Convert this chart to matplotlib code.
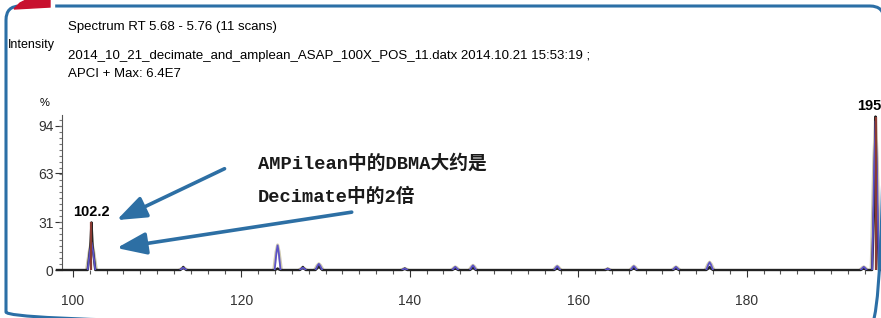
import matplotlib.pyplot as plt
from matplotlib.patches import FancyBboxPatch, Rectangle, Polygon
from matplotlib.ticker import MultipleLocator
from matplotlib.transforms import Affine2D

peak_mz = [102.2, 113.1, 124.3, 127.3, 129.2, 139.4, 145.4, 147.5,
           157.5, 163.5, 166.6, 171.6, 175.6, 193.9, 195.3]
black_h = [31, 2, 1, 2, 3, 1, 1.5, 2, 1.5, 0.8, 1.5, 1.5, 2, 1.5, 100]
blue_h = [18, 1.5, 16, 1.5, 4, 1, 2, 3, 2.5, 0.8, 2.5, 2, 5, 2, 97]
peak_w = [0.45, 0.35, 0.35, 0.35, 0.4, 0.3, 0.35, 0.35,
          0.35, 0.25, 0.35, 0.35, 0.4, 0.35, 0.4]
labelled = {102.2: '102.2', 195.3: '195.3'}

y_ticks = [0, 31, 63, 94]
x_ticks = [100, 120, 140, 160, 180]

W, H = 881, 318
fig = plt.figure(figsize=(W / 100, H / 100), dpi=100)

def fx(px):
    return px / W

def fy(py):
    return 1 - py / H

# coordenadas en pixeles desde arriba a la izquierda
pix = Affine2D().scale(1 / W, -1 / H).translate(0, 1) + fig.transFigure

narrow = ['Liberation Sans Narrow', 'Liberation Sans', 'DejaVu Sans']

# marco azul redondeado
frame = FancyBboxPatch((6, 6), 884 - 6, 326 - 6,
                       boxstyle='round,pad=0,rounding_size=14',
                       transform=pix, fill=False, edgecolor='#2b6fa6', lw=2.2)
fig.patches.append(frame)
fig.patches.append(Rectangle((18, -1), 36, 14, transform=pix,
                             color='white', zorder=2))
fig.patches.append(Polygon([(14, 9), (20, 3), (28, -1), (50, -1), (50, 7)],
                           closed=True, transform=pix, color='#c8102e', zorder=3))

ax = fig.add_axes([fx(62), fy(270), 1 - fx(62), fy(115) - fy(270)])
ax.set_xlim(98.7, 195.95)
ax.set_ylim(0, 101)

# linea base negra con picos
bx, by = [98.1], [0]
for mz, h, w in zip(peak_mz, black_h, peak_w):
    bx += [mz - w, mz - w * 0.3, mz, mz + w * 0.3, mz + w]
    by += [0, h * 0.5, h, h * 0.5, 0]
bx.append(197)
by.append(0)
ax.plot(bx, by, color='#222222', lw=1.7, zorder=3, clip_on=False)

# perfil gris/blanco y azul
for mz, h, w in zip(peak_mz, blue_h, peak_w):
    ax.plot([mz - w * 1.3, mz - w * 0.5, mz, mz + w * 0.5, mz + w * 1.3],
            [0, h * 0.75, h * 1.02, h * 0.75, 0], color='#cfcab0', lw=2.2, zorder=2)
    ax.plot([mz - w, mz - w * 0.4, mz, mz + w * 0.4, mz + w],
            [0, h * 0.7, h, h * 0.7, 0], color='#5b52c8', lw=1.3, zorder=4)

# barras rojas de centroides
for mz, h in zip(peak_mz, black_h):
    if mz in labelled:
        ax.vlines(mz, 0, h, color='#8a3b34', lw=1.6, zorder=5)
        ax.text(mz, h + 2, labelled[mz], ha='center', va='bottom', fontsize=10.5,
                family=narrow, fontweight='bold', clip_on=False)

for s in ['top', 'right', 'bottom']:
    ax.spines[s].set_visible(False)
ax.spines['left'].set_color('#555555')
ax.spines['left'].set_linewidth(0.8)

ax.set_yticks(y_ticks)
ax.yaxis.set_minor_locator(MultipleLocator(3.9))
ax.set_xticks(x_ticks)
ax.xaxis.set_minor_locator(MultipleLocator(2))
ax.tick_params(axis='y', which='major', length=5, width=0.8, pad=1,
               labelsize=10, colors='#333333')
ax.tick_params(axis='y', which='minor', length=2.5, width=0.8, color='#777777')
ax.tick_params(axis='x', which='major', length=5, width=0.8, pad=12,
               labelsize=10, colors='#333333')
ax.tick_params(axis='x', which='minor', length=3, width=0.8, color='#555555')
for lab in ax.get_xticklabels() + ax.get_yticklabels():
    lab.set_family(narrow)

fig.text(fx(40), fy(103), '%', fontsize=8, family=narrow, va='center')
fig.text(fx(8), fy(45), 'Intensity', fontsize=9, family=narrow, va='center')
fig.text(fx(68), fy(27), 'Spectrum RT 5.68 - 5.76 (11 scans)', fontsize=9.5,
         family=narrow, va='center')
fig.text(fx(68), fy(56),
         '2014_10_21_decimate_and_amplean_ASAP_100X_POS_11.datx 2014.10.21 15:53:19 ;',
         fontsize=9.5, family=narrow, va='center')
fig.text(fx(68), fy(74), 'APCI + Max: 6.4E7', fontsize=9.5, family=narrow, va='center')

cjk = ['Liberation Mono', 'Noto Sans CJK SC']
ax.text(122.0, 69.5, 'AMPilean中的DBMA大约是', fontsize=13.5, family=cjk,
        fontweight='bold', va='center', ha='left', color='#1a1a1a')
ax.text(122.0, 48, 'Decimate中的2倍', fontsize=13.5, family=cjk,
        fontweight='bold', va='center', ha='left', color='#1a1a1a')

arrow = dict(arrowstyle='-|>,head_length=1.2,head_width=0.45', color='#2d6fa4',
             lw=2.6, mutation_scale=15, shrinkA=0, shrinkB=0)
ax.annotate('', xy=(105.2, 32.5), xytext=(118.0, 66), arrowprops=arrow)
ax.annotate('', xy=(105.2, 14.3), xytext=(133.1, 37.7), arrowprops=arrow)

fig.savefig('out.png', dpi=100)
